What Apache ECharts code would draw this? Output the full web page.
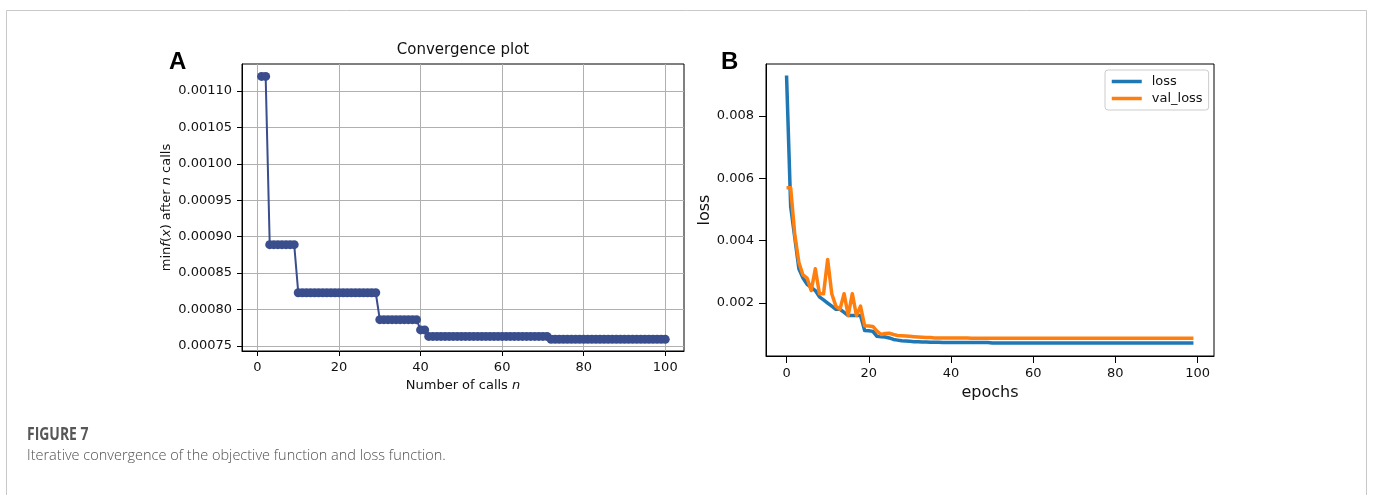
<!DOCTYPE html>
<html>
<head>
<meta charset="utf-8">
<script src="https://cdn.jsdelivr.net/npm/echarts@6/dist/echarts.min.js"></script>
<style>
  html, body { margin: 0; padding: 0; background: #fff; }
  #chart { width: 1375px; height: 495px; }
</style>
</head>
<body>
<div id="chart"></div>
<script>
// Panel A: best objective value found after n calls (calls 1..100)
const bestSoFar = [
  0.00112, 0.00112,
  0.000889, 0.000889, 0.000889, 0.000889, 0.000889, 0.000889, 0.000889,
  0.000823, 0.000823, 0.000823, 0.000823, 0.000823, 0.000823, 0.000823, 0.000823, 0.000823, 0.000823,
  0.000823, 0.000823, 0.000823, 0.000823, 0.000823, 0.000823, 0.000823, 0.000823, 0.000823, 0.000823,
  0.000786, 0.000786, 0.000786, 0.000786, 0.000786, 0.000786, 0.000786, 0.000786, 0.000786, 0.000786,
  0.000772, 0.000772,
  0.000763, 0.000763, 0.000763, 0.000763, 0.000763, 0.000763, 0.000763, 0.000763, 0.000763, 0.000763,
  0.000763, 0.000763, 0.000763, 0.000763, 0.000763, 0.000763, 0.000763, 0.000763, 0.000763, 0.000763,
  0.000763, 0.000763, 0.000763, 0.000763, 0.000763, 0.000763, 0.000763, 0.000763, 0.000763, 0.000763,
  0.000759, 0.000759, 0.000759, 0.000759, 0.000759, 0.000759, 0.000759, 0.000759, 0.000759, 0.000759,
  0.000759, 0.000759, 0.000759, 0.000759, 0.000759, 0.000759, 0.000759, 0.000759, 0.000759, 0.000759,
  0.000759, 0.000759, 0.000759, 0.000759, 0.000759, 0.000759, 0.000759, 0.000759, 0.000759
];

// Panel B: training loss per epoch (epochs 0..99)
const lossValues = [
  0.0093, 0.0051, 0.0041, 0.0031, 0.0028, 0.0026, 0.0025, 0.0024, 0.0022, 0.0021,
  0.0020, 0.0019, 0.0018, 0.0018, 0.0017, 0.0016, 0.0016, 0.0016, 0.0016, 0.00112,
  0.00111, 0.00109, 0.00093, 0.00092, 0.00091, 0.00088, 0.00083, 0.00081, 0.00079, 0.00078,
  0.00077, 0.00076, 0.00076, 0.00075, 0.00075, 0.00074, 0.00074, 0.00074, 0.00073, 0.00073,
  0.00073, 0.00073, 0.00073, 0.00073, 0.00073, 0.00073, 0.00073, 0.00073, 0.00073, 0.00073,
  0.00072, 0.00072, 0.00072, 0.00072, 0.00072, 0.00072, 0.00072, 0.00072, 0.00072, 0.00072,
  0.00072, 0.00072, 0.00072, 0.00072, 0.00072, 0.00072, 0.00072, 0.00072, 0.00072, 0.00072,
  0.00072, 0.00072, 0.00072, 0.00072, 0.00072, 0.00072, 0.00072, 0.00072, 0.00072, 0.00072,
  0.00072, 0.00072, 0.00072, 0.00072, 0.00072, 0.00072, 0.00072, 0.00072, 0.00072, 0.00072,
  0.00072, 0.00072, 0.00072, 0.00072, 0.00072, 0.00072, 0.00072, 0.00072, 0.00072, 0.00072
];

// Panel B: validation loss per epoch (epochs 0..99)
const valLossValues = [
  0.0057, 0.0057, 0.0042, 0.0033, 0.0029, 0.0028, 0.0024, 0.0031, 0.0023, 0.0023,
  0.0034, 0.0023, 0.0019, 0.0018, 0.0023, 0.0016, 0.0023, 0.0016, 0.0019, 0.00127,
  0.00126, 0.00125, 0.0011, 0.00099, 0.00102, 0.00103, 0.00099, 0.00096, 0.00095, 0.00094,
  0.00093, 0.00092, 0.00091, 0.0009, 0.00089, 0.00089, 0.00088, 0.00088, 0.00088, 0.00088,
  0.00088, 0.00088, 0.00088, 0.00088, 0.00088, 0.00087, 0.00087, 0.00087, 0.00087, 0.00087,
  0.00087, 0.00087, 0.00087, 0.00087, 0.00087, 0.00087, 0.00087, 0.00087, 0.00087, 0.00087,
  0.00087, 0.00087, 0.00087, 0.00087, 0.00087, 0.00087, 0.00087, 0.00087, 0.00087, 0.00087,
  0.00087, 0.00087, 0.00087, 0.00087, 0.00087, 0.00087, 0.00087, 0.00087, 0.00087, 0.00087,
  0.00087, 0.00087, 0.00087, 0.00087, 0.00087, 0.00087, 0.00087, 0.00087, 0.00087, 0.00087,
  0.00087, 0.00087, 0.00087, 0.00087, 0.00087, 0.00087, 0.00087, 0.00087, 0.00087, 0.00087
];

// Tick positions
const callTicks = [0, 20, 40, 60, 80, 100];
const objectiveTicks = [0.00075, 0.0008, 0.00085, 0.0009, 0.00095, 0.001, 0.00105, 0.0011];
const epochTicks = [0, 20, 40, 60, 80, 100];
const lossTicks = [0.002, 0.004, 0.006, 0.008];

const FONT = 'DejaVu Sans';
const INK = '#111';

const chart = echarts.init(document.getElementById('chart'), null, { renderer: 'canvas' });

function axisCommon(ticks, decimals, fontSize, tickLen, margin) {
  return {
    type: 'value',
    axisLine: { show: true, onZero: false, lineStyle: { color: '#000', width: 1 } },
    axisTick: { show: true, inside: false, length: tickLen, customValues: ticks, lineStyle: { color: '#000', width: 1 } },
    axisLabel: {
      customValues: ticks,
      margin: margin,
      color: INK,
      fontFamily: FONT,
      fontSize: fontSize,
      formatter: v => decimals === 0 ? String(Math.round(v)) : Number(v).toFixed(decimals)
    }
  };
}

const option = {
  animation: false,
  backgroundColor: '#fff',
  grid: [
    { left: 242, top: 64, width: 442, height: 287, show: true, borderColor: '#000', borderWidth: 1, containLabel: false },
    { left: 766, top: 64, width: 448, height: 292, show: true, borderColor: '#000', borderWidth: 1, containLabel: false }
  ],
  xAxis: [
    Object.assign(axisCommon(callTicks, 0, 13, 5, 10), {
      gridIndex: 0, min: -3.8, max: 104.6,
      splitLine: { show: true, lineStyle: { color: '#b0b0b0', width: 1 } },
      name: 'Number of calls {i|n}',
      nameLocation: 'middle', nameGap: 25,
      nameTextStyle: { color: INK, fontFamily: FONT, fontSize: 13, rich: { i: { fontStyle: 'italic', fontFamily: FONT, fontSize: 13, color: INK } } }
    }),
    Object.assign(axisCommon(epochTicks, 0, 13, 7, 11), {
      gridIndex: 1, min: -5, max: 104,
      splitLine: { show: false },
      name: 'epochs',
      nameLocation: 'middle', nameGap: 27,
      nameTextStyle: { color: INK, fontFamily: FONT, fontSize: 16 }
    })
  ],
  yAxis: [
    Object.assign(axisCommon(objectiveTicks, 5, 13, 5, 10), {
      gridIndex: 0, min: 0.000743, max: 0.001137,
      splitLine: { show: true, lineStyle: { color: '#b0b0b0', width: 1 } },
      name: 'min{i|f}({i|x}) after {i|n} calls',
      nameLocation: 'middle', nameRotate: 90, nameGap: 69,
      nameTextStyle: { color: INK, fontFamily: FONT, fontSize: 13, rich: { i: { fontStyle: 'italic', fontFamily: FONT, fontSize: 13, color: INK } } }
    }),
    Object.assign(axisCommon(lossTicks, 3, 13, 7, 12), {
      gridIndex: 1, min: 0.0003, max: 0.00967,
      splitLine: { show: false },
      name: 'loss',
      nameLocation: 'middle', nameRotate: 90, nameGap: 52,
      nameTextStyle: { color: INK, fontFamily: FONT, fontSize: 16 }
    })
  ],
  legend: {
    left: 1105, top: 70,
    orient: 'vertical',
    data: ['loss', 'val_loss'],
    itemWidth: 30, itemHeight: 14, itemGap: 4,
    padding: [5, 6, 5, 5],
    borderColor: '#ccc', borderWidth: 1, borderRadius: 3,
    backgroundColor: '#fff',
    // line-only keys: hide the marker drawn on top of each key line
    itemStyle: { opacity: 0 },
    lineStyle: { width: 3.5 },
    textStyle: { color: INK, fontFamily: FONT, fontSize: 13, padding: [0, 0, 0, 5] }
  },
  series: [
    {
      name: 'best',
      type: 'line',
      xAxisIndex: 0, yAxisIndex: 0,
      data: bestSoFar.map((v, i) => [i + 1, v]),
      symbol: 'circle', symbolSize: 9, showSymbol: true,
      lineStyle: { color: '#3a4d8c', width: 2 },
      itemStyle: { color: '#3a4d8c', borderWidth: 0 },
      emphasis: { disabled: true },
      z: 3
    },
    {
      name: 'loss',
      type: 'line',
      xAxisIndex: 1, yAxisIndex: 1,
      data: lossValues.map((v, i) => [i, v]),
      symbol: 'none',
      lineStyle: { color: '#1f77b4', width: 3.5, join: 'round' },
      itemStyle: { color: '#1f77b4' },
      emphasis: { disabled: true },
      z: 3
    },
    {
      name: 'val_loss',
      type: 'line',
      xAxisIndex: 1, yAxisIndex: 1,
      data: valLossValues.map((v, i) => [i, v]),
      symbol: 'none',
      lineStyle: { color: '#ff7f0e', width: 3.5, join: 'round' },
      itemStyle: { color: '#ff7f0e' },
      emphasis: { disabled: true },
      z: 4
    }
  ],
  graphic: [
    // outer figure frame (top, left and right edges)
    { type: 'polyline', silent: true, shape: { points: [[6.5, 495], [6.5, 10.5], [1366.5, 10.5], [1366.5, 495]] },
      style: { stroke: '#c8c8c8', lineWidth: 1, fill: null } },
    // panel letters
    { type: 'text', x: 169, y: 62, style: { text: 'A', font: 'bold 24px "Liberation Sans", Arial, sans-serif', fill: '#000', verticalAlign: 'middle' } },
    { type: 'text', x: 721, y: 62, style: { text: 'B', font: 'bold 24px "Liberation Sans", Arial, sans-serif', fill: '#000', verticalAlign: 'middle' } },
    // panel A title
    { type: 'text', x: 463, y: 50, style: { text: 'Convergence plot', font: '15px "DejaVu Sans"', fill: INK, align: 'center', verticalAlign: 'middle' } },
    // caption
    { type: 'text', x: 27, y: 435.5, scaleX: 0.82, style: { text: 'FIGURE 7', font: 'bold 17px "Open Sans", sans-serif', fill: '#575757', verticalAlign: 'middle' } },
    { type: 'text', x: 27, y: 455.5, style: { text: 'Iterative convergence of the objective function and loss function.', font: '300 14.5px "Open Sans", sans-serif', fill: '#505050', verticalAlign: 'middle' } }
  ]
};

chart.setOption(option);
</script>
</body>
</html>
